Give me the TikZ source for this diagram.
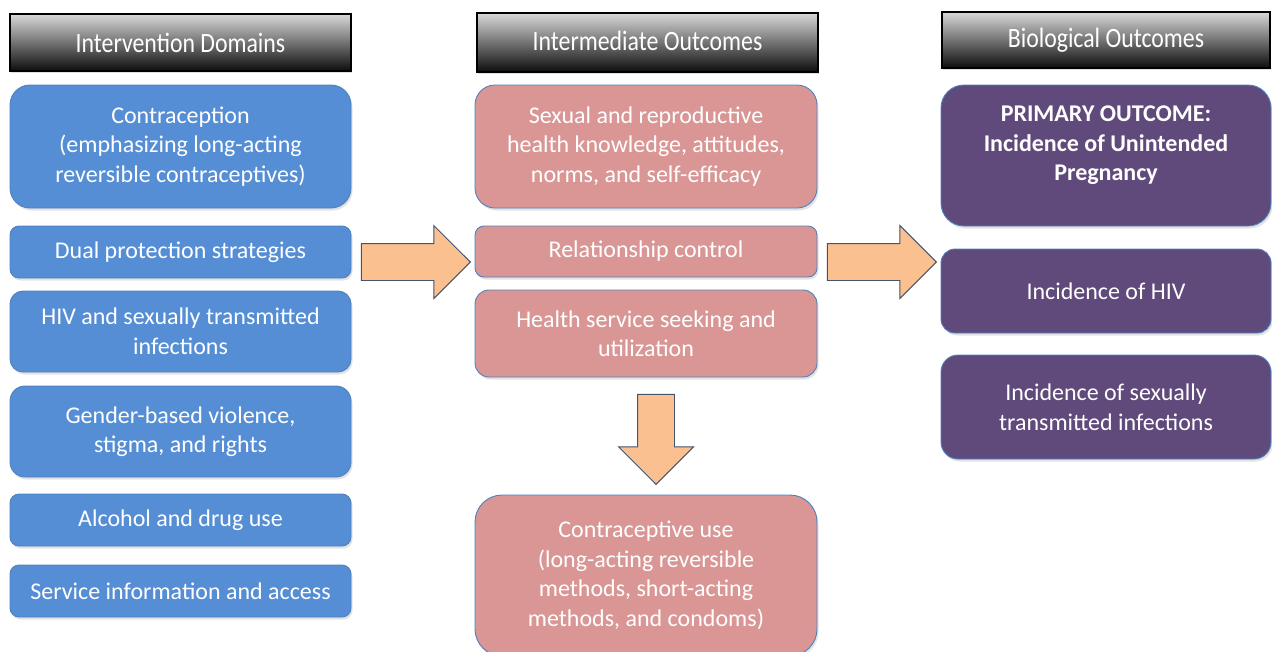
\documentclass[tikz,border=0pt]{standalone}
\usepackage{fontspec}
\setmainfont{Carlito}
\newfontfamily\headfont[FakeStretch=0.85]{Carlito}
\usetikzlibrary{shapes.arrows,shadows}
\definecolor{domainblue}{RGB}{85,142,213}
\definecolor{boxedge}{RGB}{79,129,189}
\definecolor{midpink}{RGB}{217,150,148}
\definecolor{bioplum}{RGB}{96,74,123}
\definecolor{arrowfill}{RGB}{250,192,144}
\definecolor{arrowedge}{RGB}{68,84,106}
\begin{document}
\begin{tikzpicture}[x=1pt, y=-1pt,
  head/.style={rectangle, draw=black, line width=1.2pt, top color=black!15, bottom color=black!95,
    text=white, font=\headfont\fontsize{28}{32}\selectfont, inner sep=0pt,
    drop shadow={opacity=0.25, shadow xshift=1pt, shadow yshift=-2pt}},
  box/.style={rectangle, draw=boxedge, line width=0.9pt, text=white, align=center, inner sep=0pt,
    font=\fontsize{24}{29.5}\selectfont,
    drop shadow={opacity=0.22, shadow xshift=1.5pt, shadow yshift=-2.5pt}},
  dom/.style={box, fill=domainblue, minimum width=341pt},
  mid/.style={box, fill=midpink, minimum width=342pt},
  bio/.style={box, fill=bioplum, minimum width=330pt},
  bigarrow/.style={single arrow, draw=arrowedge, fill=arrowfill, line width=0.9pt, inner sep=18pt,
    minimum width=72pt, single arrow head extend=18pt, single arrow tip angle=90, anchor=tip}]
\useasboundingbox (0,0) rectangle (1272,651);
\clip (0,0) rectangle (1272,651);
% column headings
\node[head, minimum width=341pt, minimum height=57pt] (hdom) at (180.5,42.5) {Intervention Domains};
\node[head, minimum width=341pt, minimum height=59pt] (hmid) at (647.5,42.5) {\raisebox{4pt}{Intermediate Outcomes}};
\node[head, minimum width=328pt, minimum height=56pt] (hbio) at (1106,40) {\raisebox{4pt}{Biological Outcomes}};
% intervention domains
\node[dom, minimum height=123pt, rounded corners=20pt] (contra) at (180.5,146.5) {Contraception\\(emphasizing long-acting\\reversible contraceptives)};
\node[dom, minimum height=52pt, rounded corners=9pt] (dual) at (180.5,252) {Dual protection strategies};
\node[dom, minimum height=81pt, rounded corners=13pt] (hivsti) at (180.5,331.5) {HIV and sexually transmitted\\infections};
\node[dom, minimum height=91pt, rounded corners=15pt] (gbv) at (180.5,431.5) {Gender-based violence,\\stigma, and rights};
\node[dom, minimum height=52pt, rounded corners=9pt] (alcohol) at (180.5,520) {Alcohol and drug use};
\node[dom, minimum height=52pt, rounded corners=9pt] (service) at (180.5,591) {Service information and access};
% intermediate outcomes
\node[mid, minimum height=123pt, rounded corners=20pt] (know) at (646,146.5) {Sexual and reproductive\\health knowledge, attitudes,\\norms, and self-efficacy};
\node[mid, minimum height=51pt, rounded corners=9pt] (relation) at (646,251.5) {Relationship control};
\node[mid, minimum height=87pt, rounded corners=14pt] (seeking) at (646,333.5) {Health service seeking and\\utilization};
\node[mid, minimum height=161pt, rounded corners=27pt] (contrause) at (646,575.5) {Contraceptive use\\(long-acting reversible\\methods, short-acting\\methods, and condoms)};
% biological outcomes
\node[bio, minimum height=141pt, rounded corners=23pt] (primary) at (1106,155.5) {};
\node[text=white, align=center, font=\bfseries\fontsize{24}{29.5}\selectfont] (primarytext) at ([yshift=10pt]primary.center) {PRIMARY OUTCOME:\\Incidence of Unintended\\Pregnancy};
\node[bio, minimum height=84pt, rounded corners=14pt] (hivinc) at (1106,291) {Incidence of HIV};
\node[bio, minimum height=104pt, rounded corners=17pt] (stiinc) at (1106,407) {Incidence of sexually\\transmitted infections};
% block arrows
\node[bigarrow, minimum height=109pt] (a1) at (471,262) {};
\node[bigarrow, minimum height=109pt] (a2) at (937,262) {};
\node[bigarrow, minimum height=90pt, minimum width=74pt, single arrow head extend=19pt, rotate=-90] (a3) at (656,485) {};
\end{tikzpicture}
\end{document}
